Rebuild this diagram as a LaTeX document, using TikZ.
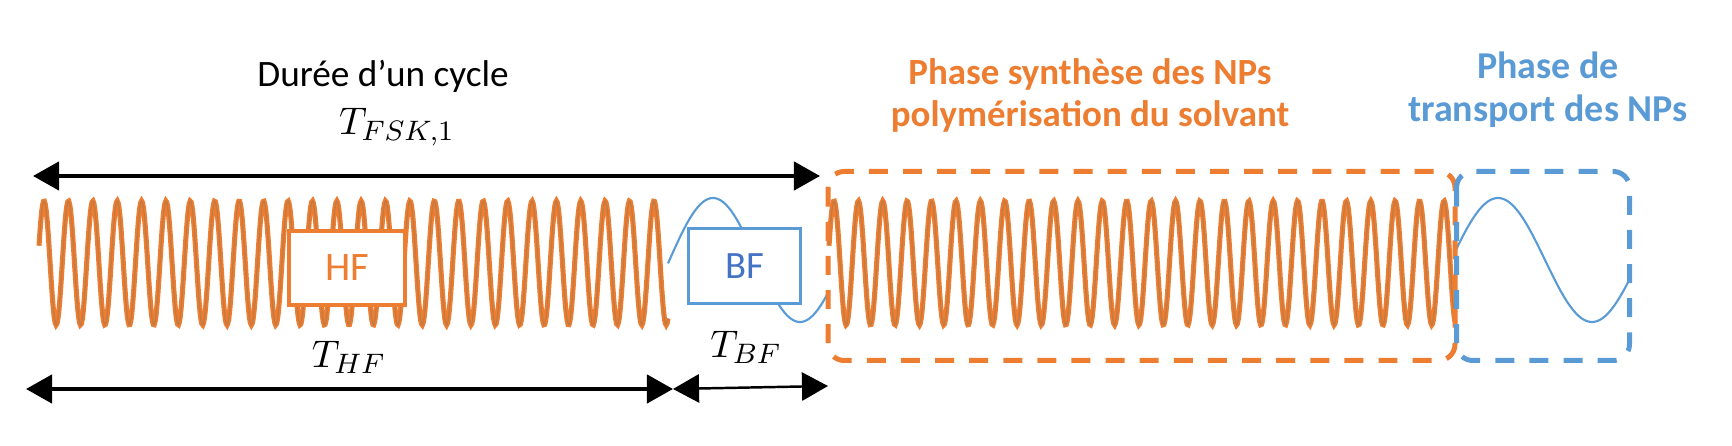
\documentclass[tikz,border=0pt]{standalone}
\usepackage{fontspec}
\setmainfont{Carlito}
\usetikzlibrary{arrows.meta}
\definecolor{hforange}{HTML}{ED7D31}
\definecolor{wavecore}{HTML}{C47A40}
\definecolor{bfblue}{HTML}{5B9BD5}
\definecolor{bftext}{HTML}{4472C4}
\tikzset{
  dimarrow/.style={{Triangle[length=7.4pt,width=8pt]}-{Triangle[length=7.4pt,width=8pt]},line width=1.15pt},
  hfwave/.style={draw=hforange,line width=1.45pt,postaction={draw=wavecore,line width=0.4pt}},
  bfwave/.style={draw=bfblue,line width=0.6pt},
  phaseframe/.style={line width=1.42pt,rounded corners=4.6pt,dash pattern=on 5.4pt off 4.3pt},
}
\begin{document}
\begin{tikzpicture}[x=0.01cm,y=-0.01cm]
  \useasboundingbox (0,0) rectangle (1732,446);
  \def\A{62} \def\P{24.4}
  % signal FSK : HF puis BF, puis la phase de synthese et de transport
  \draw[hfwave] plot[domain=39:668,samples=700] (\x,{263-\A*cos((\x-44)/\P*360)});
  \draw[bfwave] plot[domain=668:828,samples=120] (\x,{260-\A*sin((\x-669.5)/174*360)});
  \draw[hfwave] plot[domain=829:1455,samples=700] (\x,{263-\A*cos((\x-834)/\P*360)});
  \draw[bfwave] plot[domain=1456:1629,samples=120] (\x,{260-\A*sin((\x-1451)/188*360)});
  \node[draw=hforange,line width=1.15pt,fill=white,minimum width=1.16cm,minimum height=0.74cm,
        text=hforange,font=\fontsize{11.5}{13}\selectfont] (hf) at (347,268) {HF};
  \node[draw=bfblue,line width=0.85pt,fill=white,minimum width=1.12cm,minimum height=0.75cm,
        text=bftext,font=\fontsize{11}{13}\selectfont] (bf) at (744.5,266) {BF};
  \draw[phaseframe,draw=hforange] (828,171.5) rectangle (1455,360.5);
  \draw[phaseframe,draw=bfblue] (1456.5,171.5) rectangle (1629.5,360.5);
  % textes
  \node[anchor=base,font=\fontsize{10.6}{12}\selectfont] (cycle) at (383,87) {Durée d’un cycle};
  \node[anchor=base,font=\fontsize{11}{13}\selectfont] (tfsk) at (397,135) {$T_{FSK,1}$};
  \node[anchor=base,font=\fontsize{11}{13}\selectfont] (thf) at (349,368) {$T_{HF}$};
  \node[anchor=base,font=\fontsize{11}{13}\selectfont] (tbf) at (746,358) {$T_{BF}$};
  \node[anchor=base,align=center,text=hforange,font=\bfseries\fontsize{10.5}{12}\selectfont]
    (synth) at (1090,127) {Phase synthèse des NPs\\polymérisation du solvant};
  \node[anchor=base,align=center,text=bfblue,font=\bfseries\fontsize{10.8}{12.5}\selectfont]
    (transp) at (1548,122) {Phase de\\transport des NPs};
  % fleches de duree
  \coordinate (fskL) at (33,176);
  \coordinate (fskR) at (820,176);
  \coordinate (hfL) at (26,389);
  \coordinate (hfR) at (673,389);
  \coordinate (bfR) at (828,386);
  \draw[dimarrow] (fskL) -- (fskR);
  \draw[dimarrow] (hfL) -- (hfR);
  \draw[dimarrow,line width=0.7pt] (hfR) -- (bfR);
\end{tikzpicture}
\end{document}
